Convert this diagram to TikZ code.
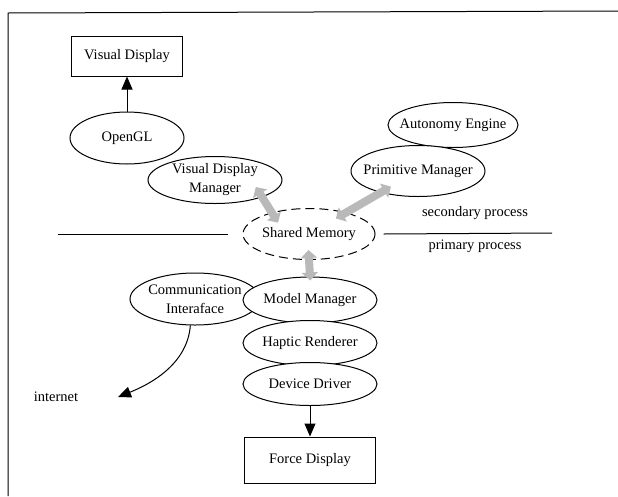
\documentclass[tikz,border=0pt]{standalone}
\usepackage{fontspec}
\setmainfont{Liberation Serif}
\usetikzlibrary{arrows.meta,shapes.geometric}

\begin{document}
\begin{tikzpicture}[x=1pt,y=-1pt,line width=1pt,
        font=\fontsize{14.5}{19}\selectfont,
        >={Triangle[length=13pt,width=11pt]},
        box/.style={draw,rectangle,fill=white,inner sep=0pt,
            minimum width=111pt,minimum height=40pt},
        proc/.style={draw,ellipse,fill=white,inner sep=-10pt,align=center,
            minimum width=134pt,minimum height=46pt},
        shared/.style={proc,dash pattern=on 9pt off 5pt},
        ipc/.style={line width=8pt,draw=gray!55,shorten <=-12pt,shorten >=-12pt,
            {Triangle[length=8pt,width=16pt]}-{Triangle[length=8pt,width=16pt]}}]

  \useasboundingbox (0,0) rectangle (618,496);
  \draw (8,496) -- (8,13) -- (618,11);

  % secondary process
  \node[box] (vis) at (127,56) {Visual Display};
  \node[proc,minimum width=114pt,minimum height=52pt] (ogl) at (127,138) {OpenGL};
  \node[proc,minimum height=47pt] (vdm) at (215,180) {Visual Display\\Manager};
  \node[proc,minimum width=130pt,minimum height=45pt] (auto) at (453,125) {Autonomy Engine};
  \node[proc,minimum height=51pt] (prim) at (418,171) {Primitive Manager};

  \node[shared,minimum width=132pt,minimum height=51pt] (shm) at (309,234) {Shared Memory};

  % primary process
  \node[proc,minimum width=130pt,minimum height=52pt] (comm) at (195,299) {Communication\\Interaface};
  \node[proc] (model) at (310,300) {Model Manager};
  \node[proc,minimum height=45pt] (haptic) at (310,343) {Haptic Renderer};
  \node[proc,minimum height=43pt] (driver) at (310,384) {Device Driver};
  \node[box,minimum width=131pt,minimum height=46pt] (force) at (310,460) {Force Display};

  \node (inet) at (56,397) {internet};
  \coordinate (inetend) at (118,397);

  \node (sec) at (475,213) {secondary process};
  \node (pri) at (475,246) {primary process};
  \coordinate (divl) at (58,234);
  \coordinate (divr) at (552,233);

  \draw (divl) -- ([xshift=-15pt]shm.west);
  \draw ([xshift=8pt]shm.east) -- (divr);

  \draw[->] (ogl.north) -- (vis.south);
  \draw[->] (driver.south) -- (force.north);
  \draw[->] (comm.-100) .. controls +(-3,40) and +(30,-12) .. (inetend);

  \draw[ipc] (vdm.-20) -- (shm.150);
  \draw[ipc] (prim.-150) -- (shm.30);
  \draw[ipc,shorten <=-10pt,shorten >=-4pt] (shm.south) -- (model.north);

\end{tikzpicture}
\end{document}
